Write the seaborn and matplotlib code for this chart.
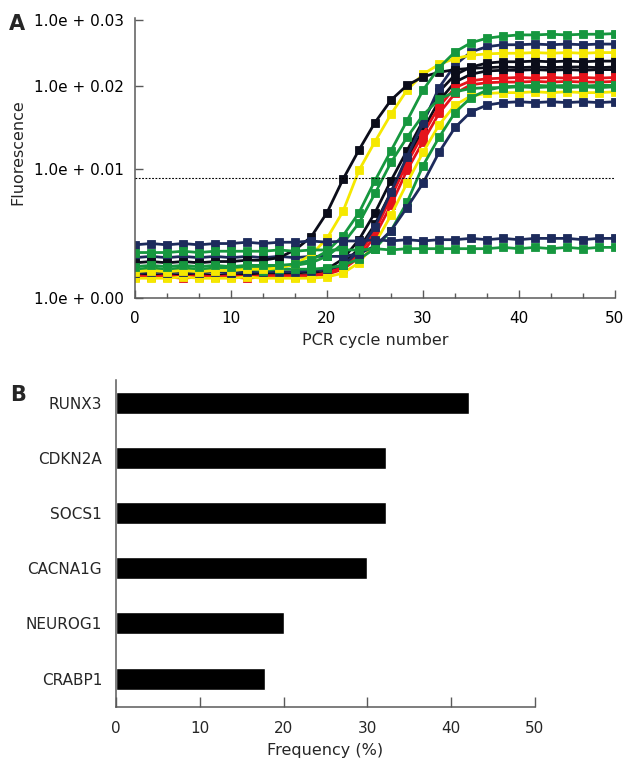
import numpy as np
import pandas as pd
import matplotlib
matplotlib.use("Agg")
import matplotlib.pyplot as plt
from matplotlib.ticker import MultipleLocator, FixedLocator
import seaborn as sns

# ---------------- data: panel A (real-time PCR curves) ----------------
cycles = np.linspace(0, 50, 31)

black_a = [0.27,0.28,0.27,0.28,0.27,0.28,0.28,0.29,0.29,0.31,0.37,0.47,0.66,0.92,1.23,1.56,1.83,2.01,2.14,2.21,2.25,2.27,2.28,2.29,2.28,2.29,2.28,2.29,2.29,2.28,2.29]
yellow_a = [0.20,0.21,0.20,0.21,0.20,0.21,0.21,0.22,0.22,0.23,0.26,0.33,0.46,0.67,0.99,1.33,1.66,1.95,2.18,2.33,2.42,2.47,2.49,2.50,2.50,2.51,2.50,2.51,2.50,2.51,2.51]
green_a = [0.24,0.25,0.24,0.25,0.24,0.25,0.24,0.25,0.25,0.25,0.26,0.29,0.36,0.48,0.66,0.91,1.22,1.58,1.95,2.28,2.52,2.66,2.73,2.76,2.78,2.78,2.79,2.78,2.79,2.79,2.80]
green_b = [0.22,0.23,0.22,0.23,0.22,0.23,0.23,0.23,0.24,0.24,0.25,0.27,0.32,0.42,0.58,0.81,1.08,1.38,1.65,1.84,1.93,1.97,1.98,1.98,1.99,1.98,1.99,1.98,1.99,1.98,1.99]
black_b = [0.18,0.18,0.17,0.18,0.18,0.17,0.18,0.18,0.18,0.18,0.19,0.20,0.22,0.30,0.45,0.66,0.91,1.22,1.58,1.93,2.17,2.29,2.35,2.37,2.37,2.38,2.37,2.38,2.37,2.38,2.38]
black_c = [0.17,0.17,0.16,0.17,0.17,0.16,0.17,0.17,0.17,0.17,0.17,0.18,0.20,0.26,0.38,0.57,0.82,1.12,1.47,1.82,2.06,2.18,2.23,2.24,2.24,2.25,2.24,2.25,2.24,2.25,2.25]
navy_b = [0.19,0.20,0.19,0.20,0.19,0.20,0.19,0.20,0.20,0.20,0.20,0.21,0.22,0.25,0.36,0.55,0.82,1.15,1.55,1.98,2.32,2.52,2.60,2.63,2.63,2.64,2.63,2.64,2.63,2.64,2.64]
red_a = [0.17,0.16,0.17,0.16,0.17,0.16,0.17,0.16,0.17,0.17,0.17,0.17,0.19,0.24,0.34,0.52,0.78,1.07,1.42,1.75,1.98,2.08,2.11,2.12,2.13,2.12,2.13,2.12,2.13,2.12,2.13]
red_b = [0.16,0.16,0.16,0.15,0.16,0.16,0.16,0.15,0.16,0.16,0.16,0.17,0.18,0.22,0.31,0.48,0.72,0.99,1.33,1.67,1.91,2.02,2.05,2.06,2.06,2.07,2.06,2.07,2.06,2.06,2.07]
yellow_b = [0.15,0.15,0.15,0.16,0.15,0.15,0.15,0.16,0.15,0.15,0.15,0.15,0.16,0.19,0.27,0.42,0.64,0.89,1.20,1.53,1.77,1.88,1.91,1.92,1.92,1.93,1.92,1.93,1.92,1.92,1.93]
green_c = [0.21,0.22,0.21,0.22,0.21,0.22,0.21,0.22,0.21,0.22,0.22,0.22,0.23,0.25,0.30,0.38,0.52,0.74,1.04,1.38,1.68,1.86,1.95,1.99,2.00,2.01,2.00,2.01,2.00,2.01,2.01]
navy_a = [0.31,0.32,0.31,0.32,0.31,0.32,0.31,0.32,0.31,0.32,0.31,0.32,0.32,0.32,0.34,0.40,0.52,0.70,0.89,1.20,1.50,1.69,1.77,1.80,1.81,1.80,1.81,1.80,1.81,1.80,1.81]
flat_green = [0.35,0.35,0.35,0.36,0.35,0.36,0.36,0.36,0.36,0.37,0.36,0.37,0.37,0.37,0.37,0.38,0.37,0.38,0.38,0.38,0.38,0.38,0.38,0.39,0.38,0.39,0.38,0.39,0.38,0.39,0.39]
flat_navy = [0.41,0.42,0.41,0.42,0.41,0.42,0.42,0.43,0.42,0.43,0.43,0.44,0.43,0.44,0.44,0.45,0.44,0.45,0.44,0.45,0.45,0.46,0.45,0.46,0.45,0.46,0.46,0.46,0.45,0.46,0.46]

BLACK, YELLOW, GREEN, RED, NAVY = "#0b0d1a", "#f5e800", "#16973f", "#e5131b", "#1d2b5c"
curves = [
    (black_b, BLACK), (black_c, BLACK), (red_a, RED), (red_b, RED),
    (yellow_b, YELLOW), (navy_b, NAVY), (green_c, GREEN), (navy_a, NAVY),
    (green_b, GREEN), (yellow_a, YELLOW), (black_a, BLACK), (green_a, GREEN),
    (flat_navy, NAVY), (flat_green, GREEN),
]

threshold = 0.93
y_tick_values = [0, 1, 2, 3]
y_tick_labels = ["1.0e + 0.00", "1.0e + 0.01", "1.0e + 0.02", "1.0e + 0.03"]
x_ticks_a = [0, 10, 20, 30, 40, 50]

# ---------------- data: panel B (methylation frequency) ----------------
genes = ["RUNX3", "CDKN2A", "SOCS1", "CACNA1G", "NEUROG1", "CRABP1"]
frequency = [42.1, 32.2, 32.2, 30.0, 20.0, 17.8]
x_ticks_b = [0, 10, 20, 30, 40, 50]

# ---------------- style ----------------
sns.set_style("ticks")
plt.rcParams['font.family'] = ['DejaVu Sans']
SPINE = "#5a5a5a"

W, H = 626, 760
fig = plt.figure(figsize=(W / 100, H / 100), dpi=100)

# ---------------- panel A ----------------
axA = fig.add_axes([135 / W, 1 - 297.5 / H, 480 / W, (297.5 - 18) / H])
_kv = [0, 1, 2, 3, 4]
_kp = [0, 128.5, 211.5, 277, 342.5]
axA.set_yscale('function', functions=(lambda v: np.interp(v, _kv, _kp),
                                      lambda p: np.interp(p, _kp, _kv)))

for vals, col in curves:
    sns.lineplot(x=cycles, y=vals, color=col, marker='s', markersize=6.3,
                 markeredgecolor=col, markeredgewidth=0.6, linewidth=2.0,
                 ax=axA, legend=False)

axA.axhline(threshold, color='black', lw=0.8, ls=(0, (1.6, 1.4)), zorder=5)

axA.set_xlim(0, 50)
axA.set_ylim(0, 3.038)
axA.yaxis.set_major_locator(FixedLocator(y_tick_values))
axA.set_yticklabels(y_tick_labels)
axA.yaxis.set_minor_locator(FixedLocator([]))
axA.xaxis.set_major_locator(FixedLocator(x_ticks_a))
axA.xaxis.set_minor_locator(MultipleLocator(10 / 3))
for s in ['top', 'right']:
    axA.spines[s].set_visible(False)
for s in ['left', 'bottom']:
    axA.spines[s].set_color(SPINE)
    axA.spines[s].set_linewidth(1.1)
axA.tick_params(axis='both', which='major', direction='in', length=6, width=1,
                color=SPINE, labelsize=11, labelcolor='black')
axA.tick_params(axis='y', which='major', pad=8)
axA.tick_params(axis='x', which='major', pad=10)
axA.tick_params(axis='x', which='minor', direction='in', length=3.5, width=1, color=SPINE)
axA.set_xlabel("PCR cycle number", fontsize=11.5, labelpad=5)
axA.set_ylabel("Fluorescence", fontsize=11.5)
axA.yaxis.set_label_coords(-0.228, 0.52)

fig.text(9 / W, 1 - 24 / H, "A", fontsize=15, fontweight='bold', va='center', ha='left')

# ---------------- panel B ----------------
axB = fig.add_axes([116 / W, 1 - 706.7 / H, (535 - 116) / W, (706.7 - 380) / H])
sns.barplot(x=frequency, y=genes, orient='h', color='black', saturation=1,
            width=0.4, ax=axB)
axB.set_xlim(0, 50)
axB.set_ylim(5.51, -0.41)
axB.set_xticks(x_ticks_b)
for s in ['top', 'right']:
    axB.spines[s].set_visible(False)
for s in ['left', 'bottom']:
    axB.spines[s].set_color(SPINE)
    axB.spines[s].set_linewidth(1.1)
axB.tick_params(axis='x', direction='in', length=7, width=1, color=SPINE,
                labelsize=11, pad=10)
axB.tick_params(axis='y', length=0, labelsize=11, pad=10)
axB.set_xlabel("Frequency (%)", fontsize=11.5, labelpad=5.5)
axB.set_ylabel("")

fig.text(10 / W, 1 - 395 / H, "B", fontsize=15, fontweight='bold', va='center', ha='left')

fig.savefig("out.png", dpi=100)
